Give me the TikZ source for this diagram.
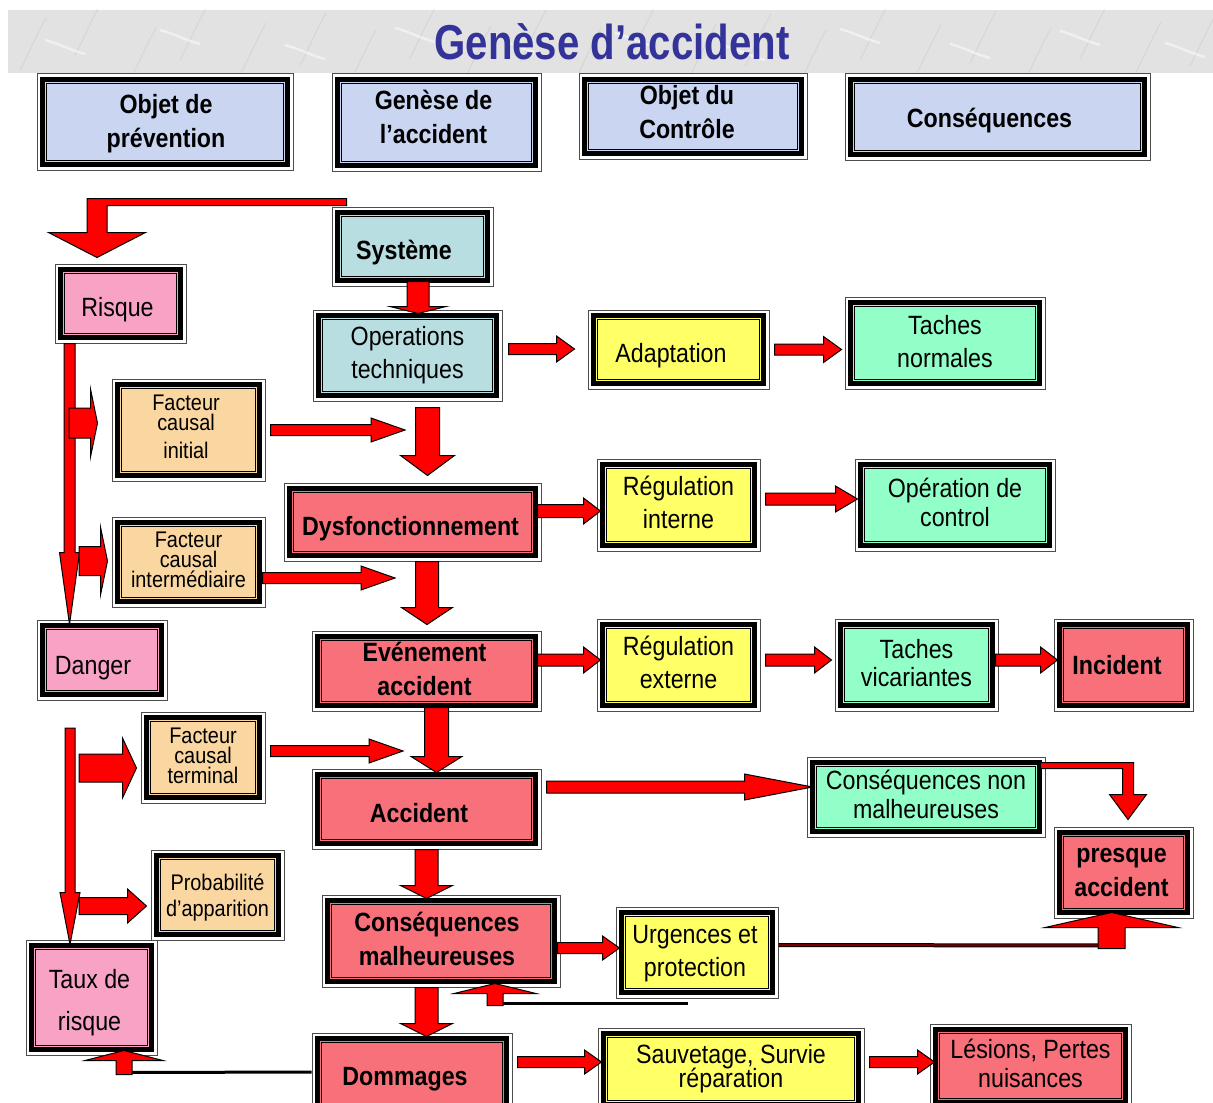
\documentclass[tikz,border=0pt]{standalone}
\usepackage{fontspec}
\setmainfont{Liberation Sans}[FakeStretch=0.88]
\newfontfamily\titlefont{Liberation Sans}[FakeStretch=0.82]
\usetikzlibrary{calc}

\definecolor{bannergray}{HTML}{E2E2E2}
\definecolor{headfill}{HTML}{C9D5F1}
\definecolor{titleblue}{HTML}{333399}
\definecolor{syscyan}{HTML}{B8DEE2}
\definecolor{warnyellow}{HTML}{FFFF66}
\definecolor{okgreen}{HTML}{92FFC8}
\definecolor{causetan}{HTML}{FAD6A0}
\definecolor{riskpink}{HTML}{F8A2C6}
\definecolor{alertred}{HTML}{F8717A}
\definecolor{arrowred}{HTML}{FF0000}
\definecolor{darkline}{HTML}{7A0000}

\tikzset{
  frame/.style={draw=black!70, line width=0.5pt, fill=white, inner sep=0pt,
    path picture={
      \path[fill=#1, draw=black, line width=2.5pt, line join=miter]
        ([shift={(2.6pt,2.6pt)}]path picture bounding box.south west) rectangle
        ([shift={(-2.6pt,-2.6pt)}]path picture bounding box.north east);
      \draw[black, line width=0.6pt]
        ([shift={(4.8pt,4.8pt)}]path picture bounding box.south west) rectangle
        ([shift={(-4.8pt,-4.8pt)}]path picture bounding box.north east);
    }},
  txt/.style={inner sep=0pt, align=center, font=\fontsize{13.2}{16.5}\selectfont},
  bold/.style={font=\fontsize{13.2}{17}\selectfont\bfseries},
  small/.style={font=\fontsize{11.3}{10}\selectfont},
  blk/.style={fill=arrowred, draw=black, line width=0.5pt, line join=miter},
  retline/.style={draw=black, line width=1.5pt},
  streak/.style={draw=gray!50, line width=0.6pt, opacity=0.3},
}

% framed box from its outer corners (x1,y1)-(x2,y2); optional text offset
\newcommand\bx[9][0,0]{%
  \node[frame=#7, minimum width={(#5-#3)*0.5pt}, minimum height={(#6-#4)*0.5pt}]
    (#2) at ({(#3+#5)/2},{(#4+#6)/2}) {};
  \node[txt, #8] (#2-t) at ([shift={(#1)}]#2.center) {#9};}

% block arrows: tail, tip, shaft half width, head half width, head length
\newcommand\rarrow[5]{%
  \draw[blk] let \p1=#1, \p2=#2 in
    (\x1,\y1+#3) -- (\x2-#5,\y1+#3) -- (\x2-#5,\y1+#4) -- (\x2,\y1)
    -- (\x2-#5,\y1-#4) -- (\x2-#5,\y1-#3) -- (\x1,\y1-#3) -- cycle;}
\newcommand\darrow[5]{%
  \draw[blk] let \p1=#1, \p2=#2 in
    (\x1-#3,\y1) -- (\x1-#3,\y2+#5) -- (\x1-#4,\y2+#5) -- (\x1,\y2)
    -- (\x1+#4,\y2+#5) -- (\x1+#3,\y2+#5) -- (\x1+#3,\y1) -- cycle;}
\newcommand\uarrow[5]{%
  \draw[blk] let \p1=#1, \p2=#2 in
    (\x1-#3,\y1) -- (\x1-#3,\y2-#5) -- (\x1-#4,\y2-#5) -- (\x1,\y2)
    -- (\x1+#4,\y2-#5) -- (\x1+#3,\y2-#5) -- (\x1+#3,\y1) -- cycle;}

\begin{document}
\begin{tikzpicture}[x=0.5pt, y=-0.5pt]
\useasboundingbox (0,0) rectangle (1213,1102);
\clip (0,0) rectangle (1213,1102);

% marbled title banner
\fill[bannergray] (8,10) rectangle (1213,73);
\begin{scope}
  \clip (8,10) rectangle (1213,73);
  \foreach \sx/\sy in {20/70,75/55,130/80,180/60,240/75,300/65,350/82,410/58,465/78,
      520/62,575/80,630/57,690/76,745/66,800/82,860/60,915/77,970/63,1025/80,1080/59,
      1135/74,1190/66}
    \draw[streak] (\sx,\sy) .. controls (\sx+8,\sy-15) and (\sx+14,\sy-30) .. (\sx+26,\sy-52);
  \foreach \sx/\sy in {45/40,160/30,285/45,395/28,505/42,615/33,725/46,840/29,950/44,1060/31,1165/43}
    \draw[streak, draw=white, opacity=0.5, line width=1.2pt] (\sx,\sy) .. controls (\sx+15,\sy+4) and (\sx+25,\sy+10) .. (\sx+40,\sy+14);
\end{scope}
\node[font=\titlefont\fontsize{24.5}{28}\selectfont\bfseries, text=titleblue]
  (title) at (612,42) {Genèse d’accident};

% column headers
\bx[1,1.5]{h1}{37}{74}{293}{170}{headfill}{bold}{Objet de\\prévention}
\bx[-3,-5.5]{h2}{332}{74}{541}{171}{headfill}{bold}{Genèse de\\l’accident}
\bx[-6,-4.5]{h3}{579}{74}{807}{159}{headfill}{bold}{Objet du\\Contrôle}
\bx[-8,4]{h4}{845}{74}{1150}{160}{headfill}{bold}{Conséquences}

% boxes
\bx[-8.5,6]{sys}{332}{207}{493}{286}{syscyan}{bold}{Système}
\bx[-3,6]{risque}{55}{264}{186}{343}{riskpink}{}{Risque}
\bx{ops}{313}{310}{502}{401}{syscyan}{}{Operations\\techniques}
\bx[-7.5,6]{adapt}{588}{310}{769}{389}{warnyellow}{}{Adaptation}
\bx[0,-1]{tnorm}{845}{297}{1045}{389}{okgreen}{}{Taches\\normales}
\bx[-2.5,-3]{fci}{112}{379}{265}{481}{causetan}{small}{Facteur\\causal\\[4pt]initial}
\bx[-2,7]{dysf}{284}{483}{541}{561}{alertred}{bold}{Dysfonctionnement}
\bx[0,-3]{regi}{597}{459}{760}{551}{warnyellow}{}{Régulation\\interne}
\bx[0,-2.5]{opctl}{855}{459}{1055}{551}{okgreen}{font=\fontsize{13.2}{14.5}\selectfont}{Opération de\\control}
\bx[0,-2]{fcm}{112}{517}{265}{607}{causetan}{small}{Facteur\\causal\\intermédiaire}
\bx[-9,8]{danger}{37}{620}{167}{700}{riskpink}{}{Danger}
\bx[-2,-2.5]{event}{312}{631}{541}{711}{alertred}{bold}{Evénement\\accident}
\bx[0,-2.5]{rege}{597}{619}{760}{711}{warnyellow}{}{Régulation\\externe}
\bx[0,-2]{tvic}{835}{619}{998}{711}{okgreen}{font=\fontsize{13.2}{14}\selectfont}{Taches\\vicariantes}
\bx[-6.5,0]{incid}{1054}{619}{1193}{711}{alertred}{bold}{Incident}
\bx[0,-2]{fct}{141}{712}{265}{803}{causetan}{small}{Facteur\\causal\\terminal}
\bx[-7.5,4]{accid}{312}{769}{541}{849}{alertred}{bold}{Accident}
\bx[0,-3]{cnm}{807}{757}{1045}{837}{okgreen}{font=\fontsize{13.2}{14.5}\selectfont}{Conséquences non\\malheureuses}
\bx[-2,0]{presq}{1054}{827}{1193}{918}{alertred}{bold}{presque\\accident}
\bx[0,3]{proba}{151}{850}{284}{940}{causetan}{font=\fontsize{11.3}{13}\selectfont}{Probabilité\\d’apparition}
\bx[-4,-2]{cm}{322}{895}{560}{987}{alertred}{bold}{Conséquences\\malheureuses}
\bx[-2,1]{urg}{616}{907}{778}{998}{warnyellow}{}{Urgences et\\protection}
\bx[-2,5]{taux}{26}{940}{157}{1055}{riskpink}{font=\fontsize{13.2}{21}\selectfont}{Taux de\\risque}
\bx[-7,5]{domm}{312}{1033}{512}{1115}{alertred}{bold}{Dommages}
\bx{sauv}{598}{1028}{864}{1110}{warnyellow}{font={\fontsize{13.2}{12}\selectfont\lineskiplimit=-10pt}}{Sauvetage, Survie\\réparation}
\bx[0,-3]{lesion}{930}{1024}{1131}{1108}{alertred}{font=\fontsize{13.2}{14.5}\selectfont}{Lésions, Pertes\\nuisances}

% free ends of the causal arrows and branch points
\coordinate (ci)   at (405,430);
\coordinate (cim)  at (395,578);
\coordinate (cit)  at (403,751);
\coordinate (ltop) at (70,728);
\coordinate (s1)   at (69,423);
\coordinate (s2)   at (79,561);
\coordinate (s3)   at (79,768);
\coordinate (s4)   at (79,906);
\coordinate (urgl) at ([shift={(-9,5)}]urg.south);
\coordinate (cmret) at ([shift={(54,16)}]cm.south);
\coordinate (ujoin) at ([shift={(-12,27)}]presq.south);
\coordinate (tret) at ([shift={(32.5,17)}]taux.south);

% system -> risk (bent band)
\draw[blk] let \p1=([shift={(15,0)}]sys.north west), \p2=([shift={(-23.5,-6)}]risque.north) in
  (\x1,\y1+4pt) -- (\x2-5pt,\y1+4pt) -- (\x2-5pt,\y2+12.5pt) -- (\x2-24.25pt,\y2+12.5pt)
  -- (\x2,\y2) -- (\x2+24.25pt,\y2+12.5pt) -- (\x2+5pt,\y2+12.5pt) -- (\x2+5pt,\y1+0.5pt)
  -- (\x1,\y1+0.5pt) -- cycle;

% main chain
\darrow{([shift={(5.5,-5)}]sys.south)}{([shift={(5.5,4)}]ops.north)}{5.5pt}{14pt}{3.5pt}
\darrow{([shift={(20,6)}]ops.south)}{([shift={(15,-7)}]dysf.north)}{6pt}{13.5pt}{10pt}
\darrow{([shift={(14.5,0)}]dysf.south)}{([shift={(0,-6)}]event.north)}{5.75pt}{12.75pt}{8.5pt}
\darrow{([shift={(10,-4)}]event.south)}{([shift={(0,4)}]accid.north)}{6pt}{12.75pt}{8pt}
\darrow{(accid.south)}{([shift={(0,4)}]cm.north)}{5.75pt}{13pt}{6.5pt}
\darrow{([shift={(-14.5,0)}]cm.south)}{([shift={(0,4)}]domm.north)}{5.75pt}{13pt}{6.5pt}

% lateral arrows
\rarrow{([shift={(6,-6.5)}]ops.east)}{([shift={(-13,0)}]adapt.west)}{2.75pt}{6.5pt}{9pt}
\rarrow{([shift={(5,0)}]adapt.east)}{([shift={(-3,0)}]tnorm.west)}{2.75pt}{6.5pt}{9pt}
\rarrow{([shift={(-4,-11)}]dysf.east)}{([shift={(4,0)}]regi.west)}{3.25pt}{6.5pt}{8.5pt}
\rarrow{([shift={(5,-6)}]regi.east)}{([shift={(3,0)}]opctl.west)}{3pt}{6.5pt}{11pt}
\rarrow{([shift={(-4,-11)}]event.east)}{([shift={(4,0)}]rege.west)}{3pt}{6.5pt}{8.5pt}
\rarrow{([shift={(5,-5)}]rege.east)}{([shift={(-3,0)}]tvic.west)}{3pt}{6.5pt}{8.5pt}
\rarrow{([shift={(-3,-5)}]tvic.east)}{([shift={(4,0)}]incid.west)}{3pt}{6.5pt}{8.5pt}
\rarrow{([shift={(5,-22)}]accid.east)}{([shift={(6,0)}]cnm.west)}{3pt}{6.5pt}{34pt}
\rarrow{([shift={(-3,7)}]cm.east)}{([shift={(4,0)}]urg.west)}{2.75pt}{6pt}{8.5pt}
\rarrow{([shift={(5,-12)}]domm.east)}{([shift={(4,0)}]sauv.west)}{2.75pt}{6pt}{8.5pt}
\rarrow{([shift={(5,-7)}]sauv.east)}{([shift={(5,0)}]lesion.west)}{2.75pt}{6pt}{8.5pt}

% causal factors feeding the chain
\rarrow{([shift={(5,0)}]fci.east)}{(ci)}{2.75pt}{6pt}{17pt}
\rarrow{([shift={(-3,16)}]fcm.east)}{(cim)}{2.75pt}{6pt}{17pt}
\rarrow{([shift={(5,-6.5)}]fct.east)}{(cit)}{2.75pt}{6pt}{17pt}

% left column: risk -> danger, rate of risk
\darrow{([shift={(-51,0)}]risque.south)}{([shift={(0,5)}]danger.north)}{2.75pt}{5pt}{36pt}
\darrow{(ltop)}{([shift={(0,5)}]taux.north)}{2.5pt}{5pt}{26pt}
\rarrow{(s1)}{([shift={(-14,-7)}]fci.west)}{7.5pt}{17pt}{3.5pt}
\rarrow{(s2)}{([shift={(-4,0)}]fcm.west)}{7.25pt}{17pt}{3.5pt}
\rarrow{(s3)}{([shift={(-4,10.5)}]fct.west)}{7pt}{15pt}{7pt}
\rarrow{(s4)}{([shift={(-4,11)}]proba.west)}{4.25pt}{8.5pt}{9.5pt}

% non-harmful consequences -> near miss (bent band)
\draw[blk] let \p1=([shift={(-5,6)}]cnm.north east), \p2=([shift={(4.5,-7)}]presq.north) in
  (\x1,\y1) -- (\x2+2.75pt,\y1) -- (\x2+2.75pt,\y2+12.5pt) -- (\x2+9.25pt,\y2+12.5pt)
  -- (\x2,\y2) -- (\x2-9.25pt,\y2+12.5pt) -- (\x2-2.75pt,\y2+12.5pt) -- (\x2-2.75pt,\y1-3pt)
  -- (\x1,\y1-3pt) -- cycle;

% emergencies -> near miss
\draw[black, line width=2pt] ([shift={(0,-7.5)}]urg.east) -- (ujoin);
\draw[darkline, line width=1pt] ([shift={(0,-7.5)}]urg.east) -- (ujoin);
\uarrow{([shift={(0,3)}]ujoin)}{([shift={(-12,-6)}]presq.south)}{6.75pt}{33.25pt}{7.5pt}

% feedback to harmful consequences
\draw[retline] (urgl) -- (cmret);
\uarrow{([shift={(0,2)}]cmret)}{([shift={(54,-4)}]cm.south)}{4pt}{20.5pt}{5pt}

% damages -> rate of risk
\draw[retline] ([shift={(0,-2)}]domm.west) -- (tret);
\uarrow{([shift={(0,2)}]tret)}{([shift={(32.5,-5)}]taux.south)}{4pt}{19.5pt}{5pt}
\end{tikzpicture}
\end{document}
